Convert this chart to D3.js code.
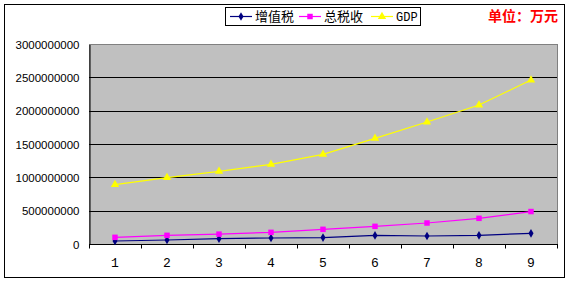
<!DOCTYPE html>
<html>
<head>
<meta charset="utf-8">
<script src="https://cdn.jsdelivr.net/npm/d3@7"></script>
<style>
  body { margin: 0; background: #fff; }
</style>
</head>
<body>
<svg id="chart" width="569" height="283"></svg>
<script>
// data
var categories = ['1', '2', '3', '4', '5', '6', '7', '8', '9'];
var vat = [45000000, 60000000, 80000000, 90000000, 97000000, 128000000, 120000000, 130000000, 160000000];
var totalTax = [100000000, 130000000, 148000000, 175000000, 220000000, 265000000, 315000000, 385000000, 487000000];
var gdp = [890000000, 995000000, 1090000000, 1195000000, 1345000000, 1585000000, 1830000000, 2085000000, 2460000000];
var yTicks = [0, 500000000, 1000000000, 1500000000, 2000000000, 2500000000, 3000000000];
var seriesNames = ['增值税', '总税收', 'GDP'];
var unitLabel = '单位：万元';

var series = [
  { name: seriesNames[0], values: vat, color: '#000080', marker: d3.symbolDiamond, size: 22 },
  { name: seriesNames[1], values: totalTax, color: '#FF00FF', marker: d3.symbolSquare, size: 30 },
  { name: seriesNames[2], values: gdp, color: '#FFFF00', marker: d3.symbolTriangle, size: 30 }
];

var svg = d3.select('#chart');

// outer frame
svg.append('rect')
  .attr('x', 4.5).attr('y', 4.5)
  .attr('width', 560).attr('height', 273)
  .attr('fill', '#fff')
  .attr('stroke', '#000')
  .attr('stroke-width', 1);

var plotLeft = 89, plotRight = 557, plotTop = 44, plotBottom = 244;

var x = d3.scaleBand()
  .domain(categories)
  .range([plotLeft, plotRight])
  .padding(0);

var y = d3.scaleLinear()
  .domain([0, 3000000000])
  .range([plotBottom, plotTop]);

// plot area
svg.append('rect')
  .attr('x', plotLeft + 0.5).attr('y', plotTop + 0.5)
  .attr('width', plotRight - plotLeft).attr('height', plotBottom - plotTop)
  .attr('fill', '#C0C0C0')
  .attr('stroke', '#808080');

// gridlines
svg.append('g')
  .selectAll('line')
  .data(yTicks.slice(1, -1))
  .enter().append('line')
  .attr('x1', plotLeft).attr('x2', plotRight)
  .attr('y1', function (d) { return Math.round(y(d)) + 0.5; })
  .attr('y2', function (d) { return Math.round(y(d)) + 0.5; })
  .attr('stroke', '#000')
  .attr('stroke-width', 1);

// y axis
var yAxis = svg.append('g')
  .attr('transform', 'translate(' + (plotLeft + 0.5) + ',0.5)')
  .call(d3.axisLeft(y).tickValues(yTicks).tickSize(0).tickSizeOuter(0).tickFormat(d3.format('d')));
yAxis.select('.domain').attr('stroke', '#000');
yAxis.selectAll('text')
  .attr('x', -10)
  .style('font-family', '"Liberation Sans", Arial, sans-serif')
  .style('font-size', '11.5px')
  .attr('fill', '#000');

// x axis
var xAxis = svg.append('g')
  .attr('transform', 'translate(0,' + (plotBottom + 0.5) + ')');
xAxis.append('line')
  .attr('x1', plotLeft).attr('x2', plotRight + 1)
  .attr('stroke', '#000');
xAxis.selectAll('.xtick')
  .data(categories.concat(['end']))
  .enter().append('line')
  .attr('class', 'xtick')
  .attr('x1', function (d, i) { return Math.round(i < categories.length ? x(d) : x.range()[1]) + 0.5; })
  .attr('x2', function (d, i) { return Math.round(i < categories.length ? x(d) : x.range()[1]) + 0.5; })
  .attr('y1', 0).attr('y2', 4)
  .attr('stroke', '#000');
xAxis.selectAll('.xlabel')
  .data(categories)
  .enter().append('text')
  .attr('class', 'xlabel')
  .attr('x', function (d) { return x(d) + x.bandwidth() / 2; })
  .attr('y', 22)
  .attr('text-anchor', 'middle')
  .style('font-family', '"Liberation Mono", monospace')
  .style('font-size', '13px')
  .attr('fill', '#000')
  .text(function (d) { return d; });

// lines and markers
var line = d3.line()
  .x(function (d, i) { return x(categories[i]) + x.bandwidth() / 2; })
  .y(function (d) { return y(d); });

series.forEach(function (s) {
  svg.append('path')
    .datum(s.values)
    .attr('d', line)
    .attr('fill', 'none')
    .attr('stroke', s.color)
    .attr('stroke-width', 1.2);

  svg.append('g')
    .selectAll('path')
    .data(s.values)
    .enter().append('path')
    .attr('d', d3.symbol().type(s.marker).size(s.size))
    .attr('transform', function (d, i) {
      return 'translate(' + (x(categories[i]) + x.bandwidth() / 2) + ',' + y(d) + ')';
    })
    .attr('fill', s.color);
});

// legend
var legend = svg.append('g');
legend.append('rect')
  .attr('x', 225.5).attr('y', 7.5)
  .attr('width', 195).attr('height', 18)
  .attr('fill', '#fff')
  .attr('stroke', '#000');

var legendPos = [230, 299, 371];
series.forEach(function (s, i) {
  var lx = legendPos[i];
  legend.append('line')
    .attr('x1', lx).attr('x2', lx + 22)
    .attr('y1', 16.5).attr('y2', 16.5)
    .attr('stroke', s.color)
    .attr('stroke-width', 1.2);
  legend.append('path')
    .attr('d', d3.symbol().type(s.marker).size(s.size))
    .attr('transform', 'translate(' + (lx + 11) + ',16.5)')
    .attr('fill', s.color);
  legend.append('text')
    .attr('x', lx + 25)
    .attr('y', 21)
    .style('font-family', i === 2 ? '"Liberation Mono", monospace' : '"Noto Sans CJK SC", sans-serif')
    .style('font-size', i === 2 ? '12px' : '13px')
    .attr('fill', '#000')
    .text(s.name);
});

// unit label
svg.append('text')
  .attr('x', 558)
  .attr('y', 21)
  .attr('text-anchor', 'end')
  .style('font-family', '"Noto Sans CJK SC", sans-serif')
  .style('font-size', '14px')
  .style('font-weight', 'bold')
  .attr('fill', '#FF0000')
  .text(unitLabel);
</script>
</body>
</html>
